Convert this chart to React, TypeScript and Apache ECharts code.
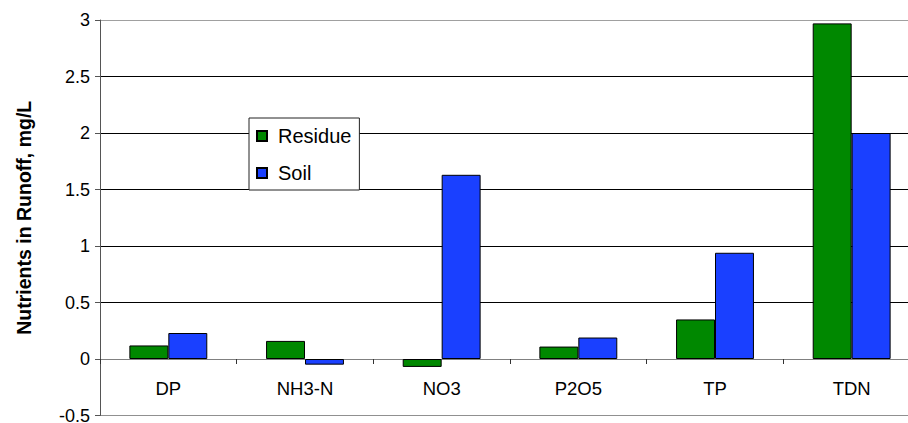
import React, { useEffect, useRef } from "react";
import * as echarts from "echarts";

const categories = ["DP", "NH3-N", "NO3", "P2O5", "TP", "TDN"];
const residueValues = [0.12, 0.16, -0.07, 0.11, 0.35, 2.97];
const soilValues = [0.23, -0.05, 1.63, 0.19, 0.94, 2.0];
const seriesNames = ["Residue", "Soil"];
const yTitle = "Nutrients in Runoff, mg/L";

export default function App() {
  const ref = useRef<HTMLDivElement>(null);
  useEffect(() => {
    if (!ref.current) return;
    const chart = echarts.init(ref.current, null, { renderer: "svg" });
    const font = "'Liberation Sans', Arial, sans-serif";
    chart.setOption({
      animation: false,
      textStyle: { fontFamily: font },
      grid: { left: 100, top: 20, right: -12, bottom: 7.5, containLabel: false, outerBoundsMode: "none" },
      legend: {
        orient: "vertical",
        left: 249,
        top: 118,
        padding: [8, 8, 7, 7],
        itemGap: 17,
        itemWidth: 10,
        itemHeight: 10,
        icon: "rect",
        borderColor: "#222",
        borderWidth: 1,
        backgroundColor: "#fff",
        textStyle: { fontSize: 20, color: "#000", fontFamily: font, padding: [0, 0, 0, 6] },
        data: seriesNames,
      },
      xAxis: {
        type: "category",
        data: categories,
        axisLine: { onZero: true, lineStyle: { color: "#808080", width: 1 } },
        axisTick: { show: true, length: 5, inside: false, alignWithLabel: false, lineStyle: { color: "#333" } },
        axisLabel: { fontSize: 18.5, color: "#000", margin: -37, fontFamily: font },
        splitLine: { show: false },
      },
      yAxis: {
        type: "value",
        min: -0.5,
        max: 3,
        interval: 0.5,
        name: yTitle,
        nameLocation: "middle",
        nameGap: 66,
        nameTextStyle: { fontSize: 19.5, fontWeight: "bold", color: "#000", fontFamily: font },
        axisLine: { show: true, lineStyle: { color: "#555", width: 1 } },
        axisTick: { show: true, length: 5, inside: false, lineStyle: { color: "#555" } },
        axisLabel: { fontSize: 18, color: "#000", margin: 10, fontFamily: font },
        splitLine: {
          show: true,
          lineStyle: {
            color: ["#909090", "#808080", "#000", "#000", "#000", "#000", "#000", "#a0a0a0"],
            width: 1,
          },
        },
      },
      series: [
        {
          name: seriesNames[0],
          type: "bar",
          data: residueValues,
          barGap: "0%",
          barCategoryGap: "43%",
          itemStyle: { color: "#008800", borderColor: "#000", borderWidth: 1 },
        },
        {
          name: seriesNames[1],
          type: "bar",
          data: soilValues,
          barGap: "0%",
          barCategoryGap: "43%",
          itemStyle: { color: "#1a40ff", borderColor: "#000", borderWidth: 1 },
        },
      ],
    });
    return () => chart.dispose();
  }, []);
  return <div ref={ref} style={{ width: 908, height: 423, position: "absolute", left: 0, top: 0 }} />;
}
